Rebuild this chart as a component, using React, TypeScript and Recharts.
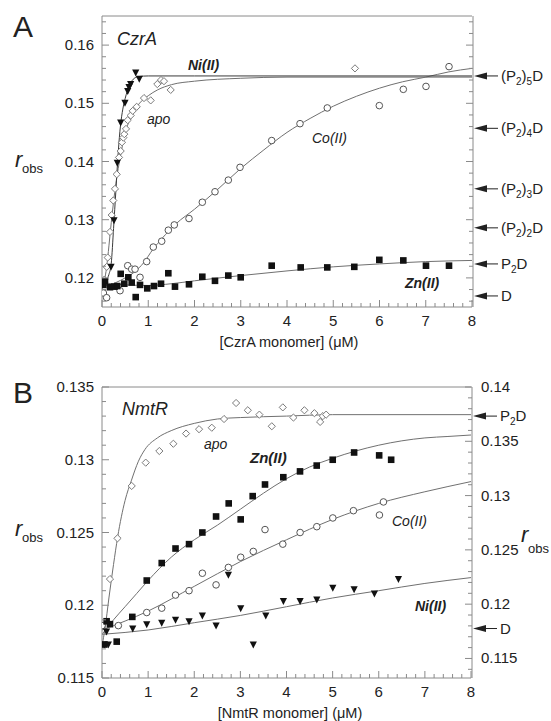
import React from 'react';
import { ComposedChart, Scatter, Line, XAxis, YAxis } from 'recharts';

const FONT = '"Liberation Sans", Arial, Helvetica, sans-serif';
const INK = '#222';
const FRAME = '#8a8a8a';
const FIT = '#707070';

// ---------- Panel A : CzrA ----------
const czrNiX = [0.195, 0.259, 0.331, 0.404, 0.497, 0.556, 0.584, 0.62, 0.729, 0.806];
const czrNiY = [0.1219, 0.1299, 0.1398, 0.1467, 0.1501, 0.1521, 0.1528, 0.1533, 0.1553, 0.1542];
const czrNiFitX = [0, 0.05, 0.1, 0.15, 0.2, 0.25, 0.3, 0.35, 0.4, 0.45, 0.5, 0.55, 0.6, 0.65, 0.7, 0.8, 1, 2, 8];
const czrNiFitY = [0.1185, 0.119, 0.1197, 0.1206, 0.1225, 0.1285, 0.135, 0.1415, 0.1462, 0.149, 0.1508, 0.1522, 0.1532, 0.1539, 0.1543, 0.1546, 0.1547, 0.1547, 0.1547];

const czrApoX = [0.05, 0.102, 0.123, 0.173, 0.21, 0.244, 0.281, 0.318, 0.368, 0.404, 0.432, 0.461, 0.482, 0.519, 0.556, 0.62, 0.664, 0.75, 0.908, 1.053, 1.196, 1.276, 1.34, 1.485, 5.47];
const czrApoY = [0.1197, 0.1219, 0.1235, 0.1279, 0.1308, 0.1333, 0.1353, 0.1378, 0.1407, 0.1418, 0.1433, 0.1441, 0.1447, 0.1456, 0.1471, 0.1479, 0.1487, 0.1494, 0.1509, 0.1505, 0.1533, 0.154, 0.1538, 0.1523, 0.156];
const czrApoFitX = [0, 0.05, 0.1, 0.15, 0.2, 0.3, 0.4, 0.5, 0.6, 0.7, 0.8, 1, 1.2, 1.5, 2, 3, 4, 8];
const czrApoFitY = [0.118, 0.1195, 0.1218, 0.1255, 0.1295, 0.1362, 0.141, 0.1448, 0.1472, 0.1487, 0.1499, 0.1513, 0.1523, 0.1532, 0.1538, 0.1543, 0.1545, 0.1545];

const czrCoX = [0.03, 0.1, 0.39, 0.556, 0.642, 0.714, 0.822, 0.966, 1.109, 1.291, 1.434, 1.563, 1.881, 2.169, 2.443, 2.731, 2.984, 3.669, 4.281, 4.871, 5.996, 6.515, 7.005, 7.503];
const czrCoY = [0.1174, 0.1166, 0.1178, 0.1221, 0.1215, 0.1215, 0.1201, 0.1228, 0.1253, 0.1263, 0.1282, 0.1291, 0.1302, 0.133, 0.1348, 0.1368, 0.139, 0.1436, 0.1465, 0.1492, 0.1496, 0.1524, 0.1529, 0.1563];
const czrCoFitX = [0, 0.3, 0.5, 0.7, 0.9, 1.1, 1.3, 1.6, 2, 2.5, 3, 3.5, 4, 4.5, 5, 5.5, 6, 6.5, 7, 7.5, 8];
const czrCoFitY = [0.1185, 0.1192, 0.12, 0.121, 0.1226, 0.1249, 0.1268, 0.1293, 0.1318, 0.1352, 0.1388, 0.142, 0.145, 0.1474, 0.1495, 0.1512, 0.1526, 0.1537, 0.1545, 0.1554, 0.156];

const czrZnX = [0.03, 0.065, 0.173, 0.266, 0.331, 0.404, 0.482, 0.569, 0.642, 0.729, 0.822, 0.979, 1.124, 1.276, 1.434, 1.578, 1.881, 2.169, 2.443, 2.731, 2.999, 3.669, 4.296, 4.871, 5.455, 5.996, 6.515, 7.005, 7.503];
const czrZnY = [0.1188, 0.1194, 0.1184, 0.1185, 0.1186, 0.1207, 0.119, 0.1201, 0.1192, 0.1167, 0.1188, 0.1182, 0.1186, 0.119, 0.1208, 0.1185, 0.1189, 0.1202, 0.1195, 0.1204, 0.1201, 0.1221, 0.1218, 0.1218, 0.1219, 0.1231, 0.123, 0.1221, 0.1221];
const czrZnFitX = [0, 0.5, 1, 1.5, 2, 3, 4, 5, 6, 7, 8];
const czrZnFitY = [0.1192, 0.1188, 0.1187, 0.119, 0.1195, 0.1204, 0.1212, 0.1219, 0.1224, 0.1228, 0.123];

const czrArrowVals = [0.1547, 0.1457, 0.1353, 0.1286, 0.1224, 0.1169];
const czrArrowNames = ['(P_2)_5D', '(P_2)_4D', '(P_2)_3D', '(P_2)_2D', 'P_2D', 'D'];

// ---------- Panel B : NmtR ----------
const nmtApoX = [0.173, 0.336, 0.644, 0.948, 1.243, 1.547, 1.822, 2.104, 2.38, 2.646, 2.907, 3.161, 3.412, 3.681, 3.92, 4.15, 4.388, 4.605, 4.729, 4.788, 4.859];
const nmtApoY = [0.1218, 0.1246, 0.1282, 0.1298, 0.1306, 0.1311, 0.1318, 0.1321, 0.1322, 0.1328, 0.1339, 0.1334, 0.1331, 0.1323, 0.1336, 0.1329, 0.1334, 0.1332, 0.1326, 0.133, 0.1331];
const nmtApoFitX = [0, 0.065, 0.15, 0.25, 0.34, 0.5, 0.64, 0.79, 0.93, 1.2, 1.5, 2, 2.5, 3, 4, 5, 8];
const nmtApoFitY = [0.1172, 0.1184, 0.1205, 0.1228, 0.1247, 0.1272, 0.1286, 0.1299, 0.1307, 0.1315, 0.132, 0.1325, 0.1328, 0.1329, 0.133, 0.1331, 0.1331];

const nmtZnX = [0.05, 0.1, 0.173, 0.319, 0.657, 0.97, 1.295, 1.594, 1.887, 2.176, 2.473, 2.747, 3.007, 3.267, 3.534, 3.931, 4.293, 4.655, 5.002, 5.466, 6.009, 6.269];
const nmtZnY = [0.1173, 0.1189, 0.1187, 0.1175, 0.1192, 0.1217, 0.1229, 0.1239, 0.1242, 0.125, 0.1261, 0.127, 0.1259, 0.1275, 0.1283, 0.1288, 0.1292, 0.1296, 0.13, 0.1305, 0.1303, 0.13];
const nmtZnFitX = [0, 0.25, 0.5, 0.75, 1, 1.5, 2, 2.5, 3, 3.5, 4, 4.5, 5, 5.5, 6, 6.5, 7, 7.5, 8];
const nmtZnFitY = [0.118, 0.119, 0.1199, 0.1208, 0.1217, 0.1233, 0.1245, 0.1255, 0.1266, 0.1277, 0.1287, 0.1295, 0.1301, 0.1306, 0.131, 0.1313, 0.1315, 0.1316, 0.1317];

const nmtCoX = [0.0, 0.354, 0.97, 1.295, 1.594, 1.887, 2.176, 2.473, 2.74, 3.007, 3.28, 3.534, 3.92, 4.295, 4.657, 5.004, 5.451, 6.015, 6.102];
const nmtCoY = [0.1186, 0.1186, 0.1195, 0.1198, 0.1207, 0.121, 0.1222, 0.1214, 0.1226, 0.1233, 0.1237, 0.1252, 0.1242, 0.125, 0.1254, 0.126, 0.1265, 0.1262, 0.1271];
const nmtCoFitX = [0, 1, 2, 3, 4, 5, 6, 7, 8];
const nmtCoFitY = [0.1183, 0.1196, 0.1213, 0.123, 0.1245, 0.1259, 0.127, 0.1278, 0.1285];

const nmtNiX = [0.05, 0.098, 0.137, 0.666, 0.97, 1.295, 1.594, 1.887, 2.176, 2.473, 2.74, 3.007, 3.28, 3.551, 3.933, 4.295, 4.657, 5.004, 5.466, 5.906, 6.427];
const nmtNiY = [0.1173, 0.1182, 0.1173, 0.1184, 0.1187, 0.1188, 0.119, 0.1189, 0.1193, 0.1186, 0.1221, 0.1198, 0.1173, 0.1193, 0.1203, 0.1203, 0.1204, 0.1212, 0.1211, 0.1208, 0.1218];
const nmtNiFitX = [0, 1, 2, 3, 4, 5, 6, 7, 8];
const nmtNiFitY = [0.118, 0.1183, 0.1188, 0.1193, 0.1199, 0.1205, 0.121, 0.1215, 0.1219];

const nmtArrowVals = [0.133, 0.1184];
const nmtArrowNames = ['P_2D', 'D'];

// ---------- axis ticks ----------
const xMajor = [0, 1, 2, 3, 4, 5, 6, 7, 8];
const yMajorA = [0.12, 0.13, 0.14, 0.15, 0.16];
const yMajorB = [0.115, 0.12, 0.125, 0.13, 0.135];
const yMajorBRight = [0.115, 0.12, 0.125, 0.13, 0.135, 0.14];

const steps = (from: number, to: number, step: number) => {
  const out: number[] = [];
  for (let v = from; v <= to + step / 2; v += step) out.push(+v.toFixed(4));
  return out;
};
const xTicks = steps(0, 8, 0.2);
const yTicksA = steps(0.116, 0.164, 0.002);
const yTicksB = steps(0.115, 0.135, 0.001);
const yTicksBRight = steps(0.114, 0.14, 0.001);

const pts = (xs: number[], ys: number[]) => xs.map((x, i) => ({ x, y: ys[i] }));
const near = (v: number, list: number[]) => list.some((m) => Math.abs(m - v) < 1e-7);

// ---------- tick renderers (ticks point inward) ----------
const bottomTick = (p: any) => {
  const major = near(p.payload.value, xMajor);
  return (
    <g>
      <line x1={p.x} y1={p.y} x2={p.x} y2={p.y - (major ? 7 : 4)} stroke={FRAME} />
      {major && (
        <text x={p.x} y={p.y + 19} textAnchor="middle" fontSize={15} fontFamily={FONT} fill={INK}>
          {p.payload.value}
        </text>
      )}
    </g>
  );
};

const topTick = (p: any) => {
  const major = near(p.payload.value, xMajor);
  return <line x1={p.x} y1={p.y} x2={p.x} y2={p.y + (major ? 7 : 4)} stroke={FRAME} />;
};

const leftTick = (majors: number[]) => (p: any) => {
  const major = near(p.payload.value, majors);
  return (
    <g>
      <line x1={p.x} y1={p.y} x2={p.x + (major ? 7 : 4)} y2={p.y} stroke={FRAME} />
      {major && (
        <text x={p.x - 8} y={p.y + 5} textAnchor="end" fontSize={15} fontFamily={FONT} fill={INK}>
          {String(p.payload.value)}
        </text>
      )}
    </g>
  );
};

const rightTick = (majors: number[], labels: boolean) => (p: any) => {
  const major = near(p.payload.value, majors);
  return (
    <g>
      <line x1={p.x} y1={p.y} x2={p.x - (major ? 7 : 4)} y2={p.y} stroke={FRAME} />
      {major && labels && (
        <text x={p.x + 9} y={p.y + 5} textAnchor="start" fontSize={15} fontFamily={FONT} fill={INK}>
          {String(p.payload.value)}
        </text>
      )}
    </g>
  );
};

// "_x" marks x as a subscript
function SubText({ x, y, s }: { x: number; y: number; s: string }) {
  let low = false;
  const spans = s.split(/(_.)/).filter(Boolean).map((seg, i) => {
    const sub = seg[0] === '_';
    const dy = sub === low ? 0 : sub ? 4 : -4;
    low = sub;
    return (
      <tspan key={i} dy={dy} fontSize={sub ? 10 : 15}>
        {sub ? seg.slice(1) : seg}
      </tspan>
    );
  });
  return (
    <text x={x} y={y} fontFamily={FONT} fill={INK} fontSize={15}>
      {spans}
    </text>
  );
}

const arrowTick = (vals: number[], names: string[]) => (p: any) => {
  const i = vals.findIndex((v) => Math.abs(v - p.payload.value) < 1e-7);
  const ax = p.x - 1;
  return (
    <g>
      <polygon points={`${ax + 3},${p.y} ${ax + 16},${p.y - 3.5} ${ax + 16},${p.y + 3.5}`} fill={INK} />
      <line x1={ax + 15} y1={p.y} x2={ax + 27} y2={p.y} stroke={INK} strokeWidth={1} />
      <SubText x={ax + 30} y={p.y + 5} s={names[i] ?? ''} />
    </g>
  );
};

// ---------- markers ----------
const Diamond = (p: any) => {
  const r = 3.6;
  return <path d={`M${p.cx},${p.cy - r}L${p.cx + r},${p.cy}L${p.cx},${p.cy + r}L${p.cx - r},${p.cy}Z`} fill="#fff" stroke="#7a7a7a" strokeWidth={1} />;
};
const Ring = (p: any) => <circle cx={p.cx} cy={p.cy} r={3.3} fill="#fff" stroke="#555" strokeWidth={1} />;
const Square = (p: any) => <rect x={p.cx - 3.3} y={p.cy - 3.3} width={6.6} height={6.6} fill="#111" />;
const TriDown = (p: any) => (
  <polygon points={`${p.cx - 3.6},${p.cy - 3} ${p.cx + 3.6},${p.cy - 3} ${p.cx},${p.cy + 4}`} fill="#111" />
);

const fitLine = (data: { x: number; y: number }[], stroke = FIT) => (
  <Line data={data} dataKey="y" type="monotone" stroke={stroke} strokeWidth={1} dot={false} activeDot={false} isAnimationActive={false} />
);

const frameAxes = (
  yDomain: number[],
  yTicks: number[],
  yMajors: number[],
) => [
  <XAxis key="xb" dataKey="x" type="number" domain={[0, 8]} ticks={xTicks} interval={0} height={1} tickSize={0} tickMargin={0} tickLine={false} axisLine={{ stroke: FRAME }} tick={bottomTick} allowDataOverflow />,
  <XAxis key="xt" xAxisId="top" orientation="top" type="number" domain={[0, 8]} ticks={xTicks} interval={0} height={1} tickSize={0} tickMargin={0} tickLine={false} axisLine={{ stroke: FRAME }} tick={topTick} allowDataOverflow />,
  <YAxis key="yl" dataKey="y" type="number" domain={yDomain} ticks={yTicks} interval={0} width={1} tickSize={0} tickMargin={0} tickLine={false} axisLine={{ stroke: FRAME }} tick={leftTick(yMajors)} allowDataOverflow />,
];

function PanelA() {
  return (
    <ComposedChart width={551} height={360} margin={{ top: 15, right: 77, bottom: 52, left: 101 }}>
      {frameAxes([0.115, 0.165], yTicksA, yMajorA)}
      <YAxis yAxisId="r" orientation="right" type="number" domain={[0.115, 0.165]} ticks={yTicksA} interval={0} width={1} tickSize={0} tickMargin={0} tickLine={false} axisLine={{ stroke: FRAME }} tick={rightTick(yMajorA, false)} allowDataOverflow />
      <YAxis yAxisId="arr" orientation="right" type="number" domain={[0.115, 0.165]} ticks={czrArrowVals} interval={0} width={1} tickSize={0} tickMargin={0} tickLine={false} axisLine={false} tick={arrowTick(czrArrowVals, czrArrowNames)} allowDataOverflow />
      {fitLine(pts(czrZnFitX, czrZnFitY))}
      {fitLine(pts(czrCoFitX, czrCoFitY))}
      {fitLine(pts(czrApoFitX, czrApoFitY))}
      {fitLine(pts(czrNiFitX, czrNiFitY), '#3a3a3a')}
      <Scatter data={pts(czrCoX, czrCoY)} dataKey="y" shape={Ring} isAnimationActive={false} />
      <Scatter data={pts(czrApoX, czrApoY)} dataKey="y" shape={Diamond} isAnimationActive={false} />
      <Scatter data={pts(czrZnX, czrZnY)} dataKey="y" shape={Square} isAnimationActive={false} />
      <Scatter data={pts(czrNiX, czrNiY)} dataKey="y" shape={TriDown} isAnimationActive={false} />
    </ComposedChart>
  );
}

function PanelB() {
  return (
    <ComposedChart width={551} height={361} margin={{ top: 26, right: 78, bottom: 42, left: 101 }}>
      {frameAxes([0.115, 0.135], yTicksB, yMajorB)}
      <YAxis yAxisId="r" orientation="right" type="number" domain={[0.1132, 0.14]} ticks={yTicksBRight} interval={0} width={1} tickSize={0} tickMargin={0} tickLine={false} axisLine={{ stroke: FRAME }} tick={rightTick(yMajorBRight, true)} allowDataOverflow />
      <YAxis yAxisId="arr" orientation="right" type="number" domain={[0.115, 0.135]} ticks={nmtArrowVals} interval={0} width={1} tickSize={0} tickMargin={0} tickLine={false} axisLine={false} tick={arrowTick(nmtArrowVals, nmtArrowNames)} allowDataOverflow />
      {fitLine(pts(nmtNiFitX, nmtNiFitY))}
      {fitLine(pts(nmtCoFitX, nmtCoFitY))}
      {fitLine(pts(nmtZnFitX, nmtZnFitY))}
      {fitLine(pts(nmtApoFitX, nmtApoFitY))}
      <Scatter data={pts(nmtCoX, nmtCoY)} dataKey="y" shape={Ring} isAnimationActive={false} />
      <Scatter data={pts(nmtApoX, nmtApoY)} dataKey="y" shape={Diamond} isAnimationActive={false} />
      <Scatter data={pts(nmtZnX, nmtZnY)} dataKey="y" shape={Square} isAnimationActive={false} />
      <Scatter data={pts(nmtNiX, nmtNiY)} dataKey="y" shape={TriDown} isAnimationActive={false} />
    </ComposedChart>
  );
}

const txt = { fontFamily: FONT, fill: INK } as const;

function Overlay() {
  return (
    <svg width={551} height={721} style={{ position: 'absolute', left: 0, top: 0, pointerEvents: 'none' }}>
      <text x={13} y={37} fontSize={30} {...txt}>A</text>
      <text x={13} y={403} fontSize={30} {...txt}>B</text>

      <text x={15} y={167} fontSize={22} fontStyle="italic" {...txt}>r</text>
      <text x={22} y={173} fontSize={13} {...txt}>obs</text>
      <text x={15} y={536} fontSize={22} fontStyle="italic" {...txt}>r</text>
      <text x={22} y={542} fontSize={13} {...txt}>obs</text>
      <text x={521} y={542} fontSize={22} fontStyle="italic" {...txt}>r</text>
      <text x={528} y={553} fontSize={13} {...txt}>obs</text>

      <text x={289} y={347} fontSize={14.5} textAnchor="middle" {...txt}>[CzrA monomer] (μM)</text>
      <text x={290} y={718} fontSize={14.5} textAnchor="middle" {...txt}>[NmtR monomer] (μM)</text>

      <text x={117} y={45} fontSize={18} fontStyle="italic" {...txt}>CzrA</text>
      <text x={188} y={70} fontSize={14} fontStyle="italic" fontWeight="bold" {...txt}>Ni(II)</text>
      <text x={147} y={124} fontSize={14} fontStyle="italic" {...txt}>apo</text>
      <text x={312} y={143} fontSize={14} fontStyle="italic" {...txt}>Co(II)</text>
      <text x={405} y={288} fontSize={14} fontStyle="italic" fontWeight="bold" {...txt}>Zn(II)</text>

      <text x={122} y={415} fontSize={18} fontStyle="italic" {...txt}>NmtR</text>
      <text x={204} y={449} fontSize={14} fontStyle="italic" {...txt}>apo</text>
      <text x={250} y={463} fontSize={15} fontStyle="italic" fontWeight="bold" {...txt}>Zn(II)</text>
      <text x={392} y={526} fontSize={14} fontStyle="italic" {...txt}>Co(II)</text>
      <text x={415} y={611} fontSize={14} fontStyle="italic" fontWeight="bold" {...txt}>Ni(II)</text>
    </svg>
  );
}

export default function App() {
  return (
    <div style={{ position: 'absolute', left: 0, top: 0, width: 551, height: 721, background: '#fff' }}>
      <div style={{ position: 'absolute', left: 0, top: 0 }}>
        <PanelA />
      </div>
      <div style={{ position: 'absolute', left: 0, top: 360 }}>
        <PanelB />
      </div>
      <Overlay />
    </div>
  );
}
